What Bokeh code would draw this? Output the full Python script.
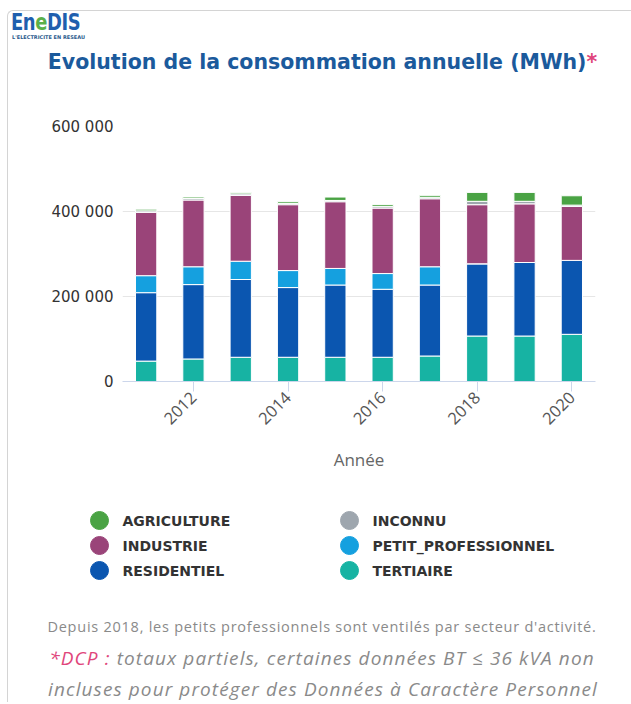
from math import pi
from bokeh.plotting import figure
from bokeh.models import (ColumnDataSource, FixedTicker, CustomJSTickFormatter, Div, Range1d)
from bokeh.core.properties import value
from bokeh.layouts import column
from bokeh.embed import file_html
from bokeh.resources import INLINE

# ---------------- data (MWh) ----------------
years = [2011, 2012, 2013, 2014, 2015, 2016, 2017, 2018, 2019, 2020]
tertiaire = [48000, 53000, 57000, 57000, 57000, 57000, 60000, 107000, 107000, 111000]
residentiel = [161000, 175000, 183000, 164000, 170000, 160000, 167000, 170000, 173000, 174000]
petit_professionnel = [40000, 42000, 43000, 40000, 39000, 37000, 43000, 0, 0, 0]
industrie = [149000, 157000, 155000, 155000, 157000, 154000, 160000, 139000, 138000, 127000]
inconnu = [3500, 3500, 3500, 3000, 3000, 3500, 3500, 8000, 6000, 3000]
agriculture = [4000, 3500, 3500, 4000, 8000, 4500, 4500, 21000, 21000, 22000]

stack_order = ["TERTIAIRE", "RESIDENTIEL", "PETIT_PROFESSIONNEL", "INDUSTRIE", "INCONNU", "AGRICULTURE"]
legend_order = ["AGRICULTURE", "INCONNU", "INDUSTRIE", "PETIT_PROFESSIONNEL", "RESIDENTIEL", "TERTIAIRE"]
colors = {
    "AGRICULTURE": "#4aa344",
    "INCONNU": "#9ea6ae",
    "INDUSTRIE": "#9a4479",
    "PETIT_PROFESSIONNEL": "#15a0df",
    "RESIDENTIEL": "#0b56b0",
    "TERTIAIRE": "#17b3a3",
}
x_ticks = [2012, 2014, 2016, 2018, 2020]
y_ticks = [0, 200000, 400000, 600000]

source = ColumnDataSource(dict(
    year=years,
    TERTIAIRE=tertiaire,
    RESIDENTIEL=residentiel,
    PETIT_PROFESSIONNEL=petit_professionnel,
    INDUSTRIE=industrie,
    INCONNU=inconnu,
    AGRICULTURE=agriculture,
))

W = 628
HH, PH, LH, FH = 90, 392, 118, 102

# ---------------- header ----------------
header = Div(
    width=W, height=HH, margin=0,
    text=(
        '<div style="position:relative;width:%dpx;height:%dpx;">'
        '<div style="position:absolute;left:7px;top:10px;width:640px;height:692px;'
        'border-left:1px solid #d4d4d4;border-top:1px solid #d4d4d4;border-top-left-radius:6px;"></div>'
        '<div style="position:absolute;left:11px;top:9px;font-family:\'DejaVu Sans\';font-weight:bold;'
        'font-size:23px;line-height:26px;color:#1f5fae;transform:scaleX(0.78);transform-origin:left top;letter-spacing:-0.5px;">'
        'E<span>n</span><span style="color:#5bb04a">e</span>DIS</div>'
        '<div style="position:absolute;left:12px;top:34px;font-family:\'DejaVu Sans\';font-weight:bold;'
        'font-size:5px;line-height:6px;color:#2a5a8c;white-space:nowrap;">L\'ELECTRICITE EN RESEAU</div>'
        '<div style="position:absolute;left:8.5px;top:50px;width:%dpx;text-align:center;line-height:24px;'
        'font-family:\'DejaVu Sans\';font-weight:bold;font-size:20.5px;color:#1b5a9c;white-space:nowrap;">'
        'Evolution de la consommation annuelle (MWh)<span style="color:#e0457b">*</span></div>'
        '</div>'
    ) % (W, HH, W),
)

# ---------------- main chart ----------------
p = figure(
    width=W, height=PH,
    x_range=Range1d(2010.5, 2020.5), y_range=Range1d(0, 600000),
    output_backend="svg", toolbar_location=None,
    min_border_left=122, min_border_right=W - 595,
    min_border_top=36, min_border_bottom=101,
)
p.frame_align = False
p.border_fill_alpha = 0
p.vbar_stack(
    stack_order, x="year", width=0.45, source=source,
    fill_color=[colors[n] for n in stack_order],
    line_color="white", line_width=1,
)
p.outline_line_color = None
p.xgrid.visible = False
p.ygrid.grid_line_color = "#e6e6e6"
p.ygrid.ticker = FixedTicker(ticks=y_ticks)

p.yaxis.ticker = FixedTicker(ticks=y_ticks)
p.yaxis.formatter = CustomJSTickFormatter(
    code="return Math.round(tick).toString().replace(/\\B(?=(\\d{3})+(?!\\d))/g, ' ');")
p.yaxis.axis_line_color = None
p.yaxis.major_tick_line_color = None
p.yaxis.major_tick_out = 0
p.yaxis.major_tick_in = 0
p.yaxis.minor_tick_line_color = None
p.yaxis.major_label_text_font = "DejaVu Sans"
p.yaxis.major_label_text_font_size = "15px"
p.yaxis.major_label_text_color = "#333333"
p.yaxis.major_label_standoff = 9

p.xaxis.ticker = FixedTicker(ticks=x_ticks)
p.xaxis.axis_line_color = "#ccd6eb"
p.xaxis.major_tick_line_color = "#ccd6eb"
p.xaxis.major_tick_out = 10
p.xaxis.major_tick_in = 0
p.xaxis.minor_tick_line_color = None
p.xaxis.major_label_orientation = pi / 4
p.xaxis.major_label_text_font = "Open Sans"
p.xaxis.major_label_text_font_size = "16.5px"
p.xaxis.major_label_text_color = "#555555"
p.xaxis.major_label_standoff = 3
p.xaxis.axis_label = "Année"
p.xaxis.axis_label_text_font = "Open Sans"
p.xaxis.axis_label_text_font_style = "normal"
p.xaxis.axis_label_text_font_size = "17px"
p.xaxis.axis_label_text_color = "#666666"
p.xaxis.axis_label_standoff = 15

# ---------------- legend ----------------
lf = figure(
    width=W, height=LH, x_range=Range1d(0, W), y_range=Range1d(LH, 0),
    output_backend="svg", toolbar_location=None,
    x_axis_location=None, y_axis_location=None, min_border=0,
)
lf.frame_align = False
lf.background_fill_alpha = 0
lf.border_fill_alpha = 0
lf.outline_line_color = None
lf.grid.visible = False
cols = [i % 2 for i in range(len(legend_order))]
rows = [i // 2 for i in range(len(legend_order))]
leg_src = ColumnDataSource(dict(
    name=legend_order,
    color=[colors[n] for n in legend_order],
    gx=[99 + c * 250 for c in cols],
    gy=[38 + r * 25 for r in rows],
    tx=[122 + c * 250 for c in cols],
))
lf.scatter(x="gx", y="gy", size=18, marker="circle", fill_color="color", line_color="color", source=leg_src)
lf.text(x="tx", y="gy", text="name", source=leg_src,
        text_font=value("DejaVu Sans"), text_font_style="bold", text_font_size="14px",
        text_color="#333333", text_baseline="middle", text_align="left")

# ---------------- footer ----------------
footer = Div(
    width=W, height=FH, margin=0,
    text=(
        '<div style="position:relative;width:%dpx;height:%dpx;overflow:hidden;font-family:\'Open Sans\';color:#8a8a8a;">'
        '<div style="position:absolute;left:8px;top:17px;width:%dpx;text-align:center;font-size:14.5px;line-height:20px;'
        'letter-spacing:0.75px;white-space:nowrap;">'
        'Depuis 2018, les petits professionnels sont ventilés par secteur d\'activité.</div>'
        '<div style="position:absolute;left:8px;top:46px;width:%dpx;text-align:center;font-size:19px;line-height:24px;'
        'font-style:italic;letter-spacing:1.1px;white-space:nowrap;">'
        '<span style="color:#e0457b">*DCP :</span> totaux partiels, certaines données BT ≤ 36 kVA non</div>'
        '<div style="position:absolute;left:9px;top:78px;width:%dpx;text-align:center;font-size:19px;line-height:22px;'
        'font-style:italic;letter-spacing:1.1px;white-space:nowrap;">'
        'incluses pour protéger des Données à Caractère Personnel</div>'
        '</div>'
    ) % (W, FH, W, W, W),
)

layout = column(header, p, lf, footer, spacing=0)
open("out.html", "w").write(file_html(layout, INLINE))
